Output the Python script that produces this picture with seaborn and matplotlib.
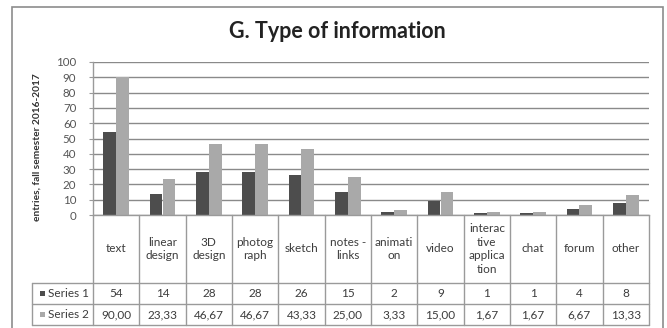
import matplotlib
matplotlib.use("Agg")
import matplotlib.pyplot as plt
from matplotlib.transforms import blended_transform_factory
from matplotlib.patches import Rectangle
from matplotlib.lines import Line2D
import pandas as pd
import seaborn as sns

# Data
categories = ["text", "linear\ndesign", "3D\ndesign", "photog\nraph", "sketch",
              "notes -\nlinks", "animati\non", "video", "interac\ntive\napplica\ntion",
              "chat", "forum", "other"]
series_names = ["Series 1", "Series 2"]
series1 = [54, 14, 28, 28, 26, 15, 2, 9, 1, 1, 4, 8]
series2 = [90.00, 23.33, 46.67, 46.67, 43.33, 25.00, 3.33, 15.00, 1.67, 1.67, 6.67, 13.33]
y_ticks = list(range(0, 101, 10))

title = "G. Type of information"
y_label = "entries, fall semester 2016-2017"

dark = "#4d4d4d"
light = "#a9a9a9"
line_col = "#9a9a9a"
text_col = "#3c3c3c"

sns.set_theme(style="white")
plt.rcParams["font.family"] = ["Lato", "DejaVu Sans"]

W, H = 667, 328
fig = plt.figure(figsize=(W / 100, H / 100), dpi=100)
fig.patch.set_facecolor("white")


def fx(px):
    return px / W


def fy(py):
    return (H - py) / H


ax_left, ax_right, ax_top, ax_bottom = 93, 649, 62, 215
ax = fig.add_axes([fx(ax_left), fy(ax_bottom), fx(ax_right - ax_left), (ax_bottom - ax_top) / H])

df = pd.DataFrame({
    "category": categories * 2,
    "series": [series_names[0]] * len(categories) + [series_names[1]] * len(categories),
    "value": series1 + series2,
})

sns.barplot(data=df, x="category", y="value", hue="series", order=categories,
            hue_order=series_names, palette=[dark, light], width=0.56,
            saturation=1, legend=False, ax=ax, edgecolor="none")

ax.set_xlim(-0.5, len(categories) - 0.5)
ax.set_ylim(0, 100)
ax.set_yticks(y_ticks)
ax.set_yticklabels([str(t) for t in y_ticks], fontsize=8.3, color="#555555")
ax.tick_params(axis="y", length=3, width=0.8, color=line_col, pad=9, left=True)
ax.set_xticks([])
ax.set_xlabel("")
ax.set_ylabel("")
ax.yaxis.grid(True, color="#8a8a8a", linewidth=1)
ax.set_axisbelow(True)
for side in ["top", "right"]:
    ax.spines[side].set_visible(False)
for side in ["left", "bottom"]:
    ax.spines[side].set_color(line_col)
    ax.spines[side].set_linewidth(1)

# Title and axis label
fig.text(fx(337), fy(32), title, ha="center", va="center", fontsize=15.5,
         fontweight="bold", color="#222222")
fig.text(fx(37), fy(147), y_label, ha="center", va="center", rotation=90,
         fontsize=7.3, fontweight="bold", color="#333333")

# Data table under the plot
trans = blended_transform_factory(ax.transData, fig.transFigure)
row_header_bottom, row1_bottom, row2_bottom = 283, 304, 325
legend_left = 32
fs = 8.5

n = len(categories)
for k in range(n + 1):
    x = -0.5 + k
    fig.add_artist(Line2D([x, x], [fy(ax_bottom), fy(row2_bottom)], transform=trans,
                          color=line_col, linewidth=1))
for yy in (row_header_bottom, row1_bottom, row2_bottom):
    fig.add_artist(Line2D([fx(legend_left), fx(ax_right)], [fy(yy), fy(yy)],
                          transform=fig.transFigure, color=line_col, linewidth=1))
fig.add_artist(Line2D([fx(legend_left), fx(legend_left)], [fy(row_header_bottom), fy(row2_bottom)],
                      transform=fig.transFigure, color=line_col, linewidth=1))

for i, cat in enumerate(categories):
    fig.text(i, fy((ax_bottom + row_header_bottom) / 2), cat, transform=trans,
             ha="center", va="center", fontsize=fs, color=text_col, linespacing=1.3)
    fig.text(i, fy((row_header_bottom + row1_bottom) / 2), f"{series1[i]}", transform=trans,
             ha="center", va="center", fontsize=fs, color=text_col)
    fig.text(i, fy((row1_bottom + row2_bottom) / 2), f"{series2[i]:.2f}".replace(".", ","),
             transform=trans, ha="center", va="center", fontsize=fs, color=text_col)

for name, col, (top, bot) in zip(series_names, [dark, light],
                                 [(row_header_bottom, row1_bottom), (row1_bottom, row2_bottom)]):
    yc = (top + bot) / 2
    fig.add_artist(Rectangle((fx(40), fy(yc + 2.5)), fx(5), 5 / H, transform=fig.transFigure,
                             facecolor=col, edgecolor="none"))
    fig.text(fx(48), fy(yc), name, ha="left", va="center", fontsize=fs, color=text_col)

# Chart frame
fig.add_artist(Rectangle((fx(12), -0.02), fx(663 - 12), fy(7) + 0.02, transform=fig.transFigure,
                         fill=False, edgecolor="#8c8c8c", linewidth=1.2))

fig.savefig("out.png", dpi=100, facecolor="white")
